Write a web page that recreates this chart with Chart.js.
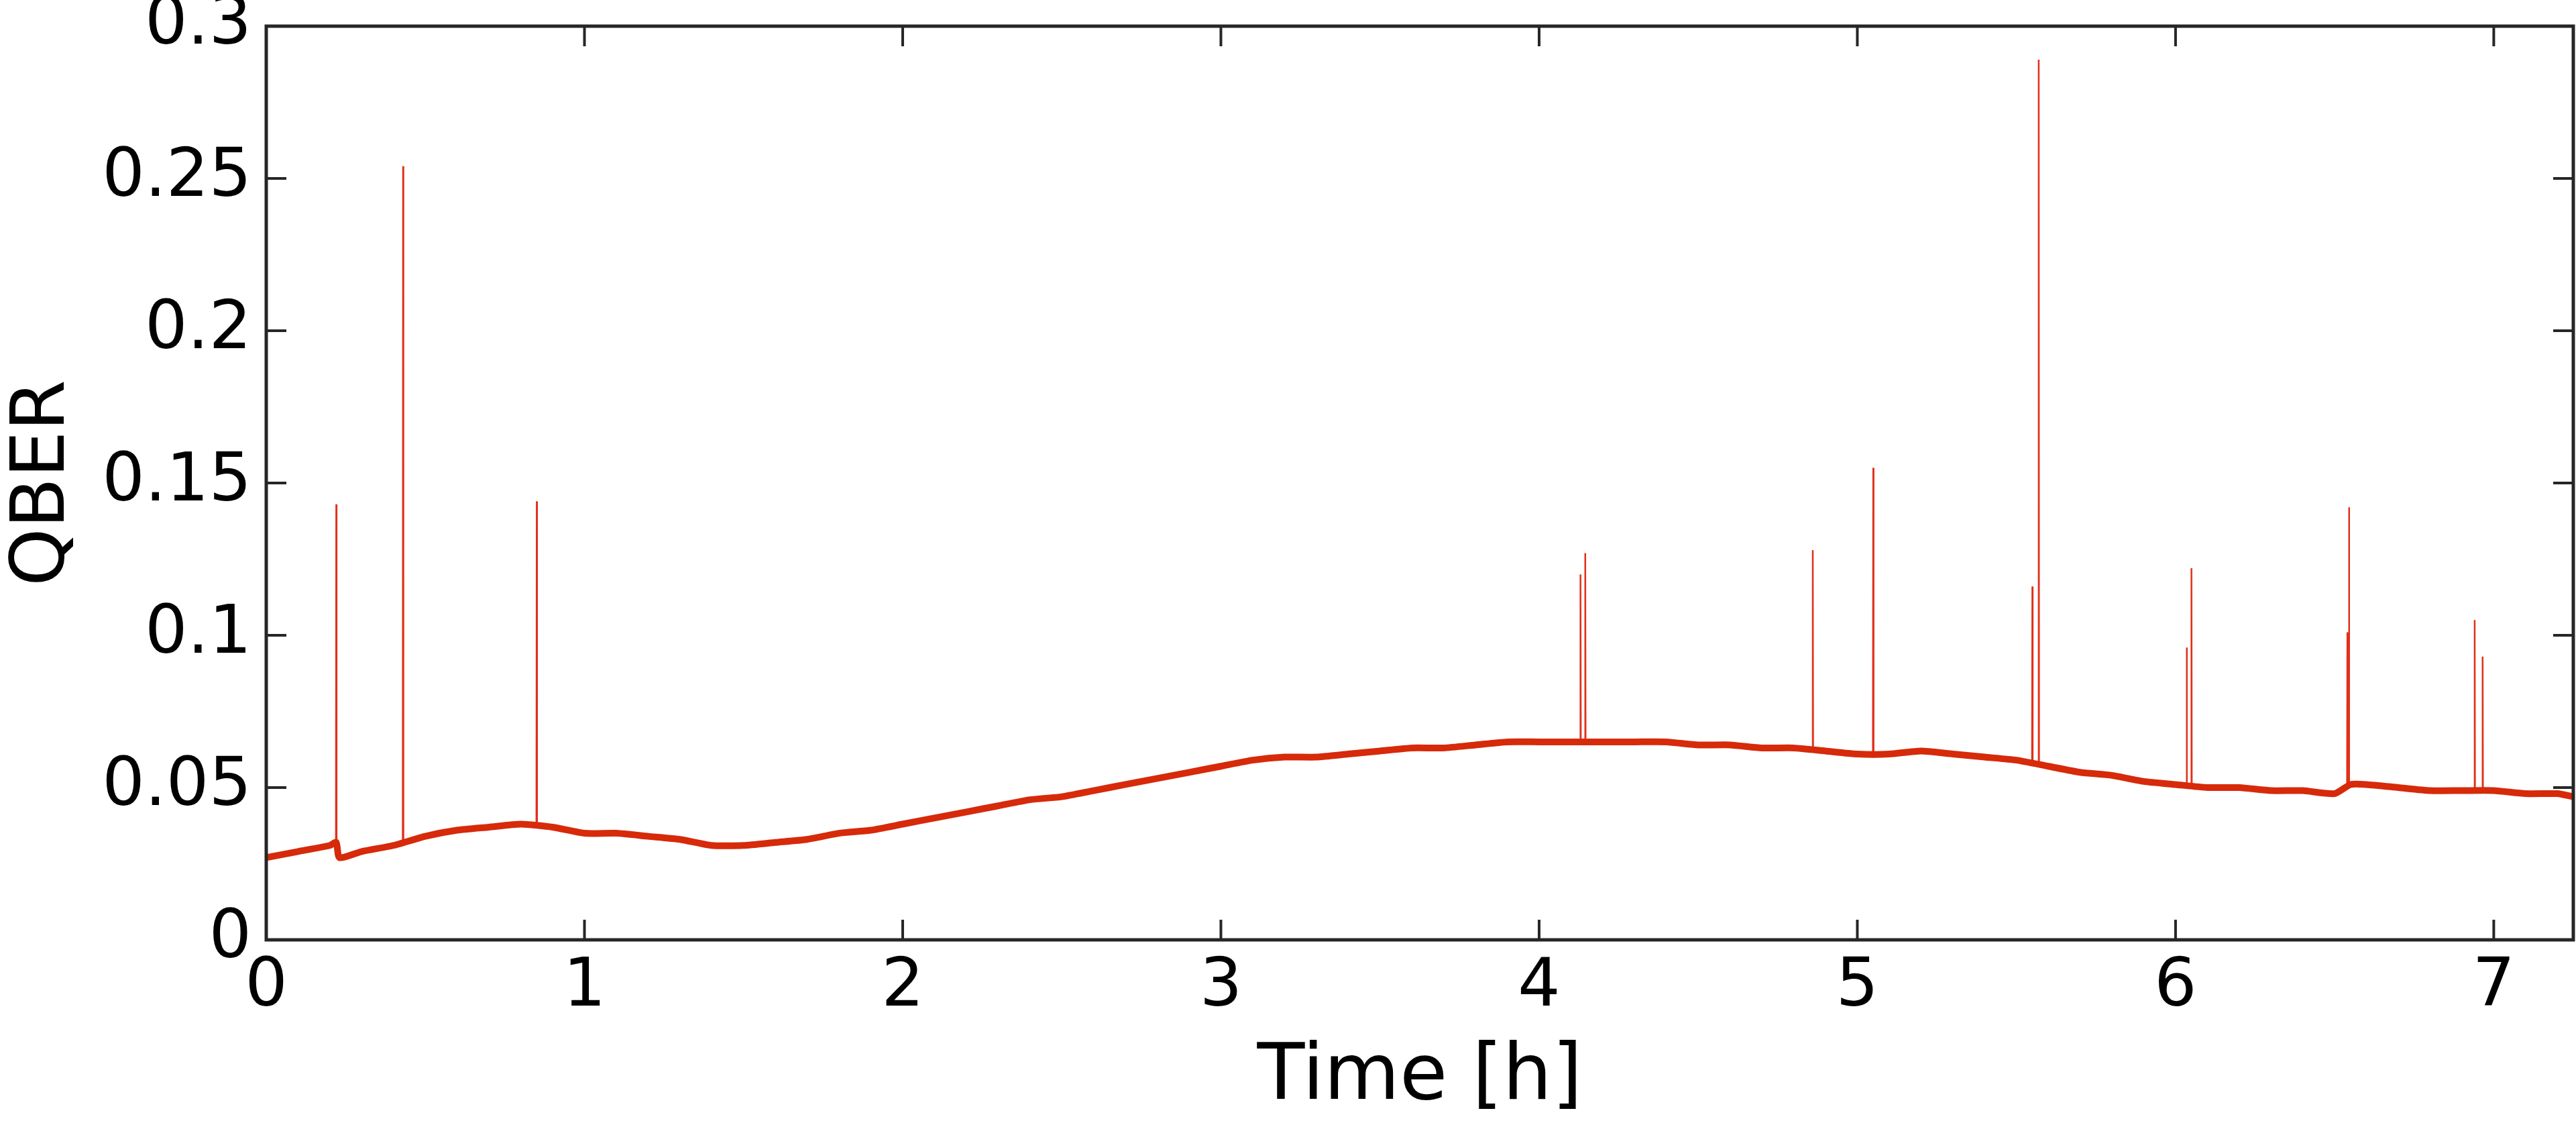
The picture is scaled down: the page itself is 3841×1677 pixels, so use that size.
<!DOCTYPE html>
<html><head><meta charset="utf-8">
<script src="https://cdn.jsdelivr.net/npm/chart.js@4"></script>
<style>html,body{margin:0;padding:0;background:#fff}#w{width:3841px;height:1677px}</style>
</head><body><div id="w"><canvas id="c"></canvas></div>
<script>
const baseT = [0,0.1,0.2,0.22,0.23,0.3,0.4,0.5,0.6,0.7,0.8,0.9,1.0,1.1,1.2,1.3,1.4,1.5,1.6,1.7,1.8,1.9,2.0,2.1,2.2,2.3,2.4,2.5,2.6,2.7,2.8,2.9,3.0,3.1,3.2,3.3,3.4,3.5,3.6,3.7,3.8,3.9,4.0,4.1,4.2,4.3,4.4,4.5,4.6,4.7,4.8,4.9,5.0,5.1,5.2,5.3,5.4,5.5,5.6,5.7,5.8,5.9,6.0,6.1,6.2,6.3,6.4,6.5,6.55,6.6,6.7,6.8,6.9,7.0,7.1,7.2,7.25];
const baseQ = [0.027,0.029,0.031,0.032,0.027,0.029,0.031,0.034,0.036,0.037,0.038,0.037,0.035,0.035,0.034,0.033,0.031,0.031,0.032,0.033,0.035,0.036,0.038,0.040,0.042,0.044,0.046,0.047,0.049,0.051,0.053,0.055,0.057,0.059,0.060,0.060,0.061,0.062,0.063,0.063,0.064,0.065,0.065,0.065,0.065,0.065,0.065,0.064,0.064,0.063,0.063,0.062,0.061,0.061,0.062,0.061,0.060,0.059,0.057,0.055,0.054,0.052,0.051,0.050,0.050,0.049,0.049,0.048,0.051,0.051,0.050,0.049,0.049,0.049,0.048,0.048,0.047];
const spikeT = [0.22,0.43,0.85,4.13,4.145,4.86,5.05,5.55,5.57,6.035,6.05,6.54,6.545,6.94,6.965];
const spikeQ = [0.143,0.254,0.144,0.120,0.127,0.128,0.155,0.116,0.289,0.096,0.122,0.101,0.142,0.105,0.093];
const xTicks = [0,1,2,3,4,5,6,7];
const yTicks = [0,0.05,0.1,0.15,0.2,0.25,0.3];
const yLabels = ['0','0.05','0.1','0.15','0.2','0.25','0.3'];

function baseAt(t){for(let i=1;i<baseT.length;i++){if(t<=baseT[i]){const f=(t-baseT[i-1])/(baseT[i]-baseT[i-1]);return baseQ[i-1]+f*(baseQ[i]-baseQ[i-1]);}}return baseQ[baseQ.length-1];}
const spikePts=[];
spikeT.forEach((t,i)=>{const b=baseAt(t);spikePts.push({x:t-0.001,y:b},{x:t,y:spikeQ[i]},{x:t+0.001,y:b},{x:NaN,y:NaN});});
const basePts=baseT.map((t,i)=>({x:t,y:baseQ[i]}));

const frame={id:'frame',afterDraw(ch){const {ctx,chartArea:a,scales:{x,y}}=ch;ctx.save();ctx.strokeStyle='#262626';ctx.lineWidth=5;ctx.strokeRect(a.left,a.top,a.right-a.left,a.bottom-a.top);
ctx.lineWidth=4;const L=30;ctx.beginPath();
xTicks.forEach(v=>{const p=x.getPixelForValue(v);ctx.moveTo(p,a.bottom);ctx.lineTo(p,a.bottom-L);ctx.moveTo(p,a.top);ctx.lineTo(p,a.top+L);});
yTicks.forEach(v=>{const p=y.getPixelForValue(v);ctx.moveTo(a.left,p);ctx.lineTo(a.left+L,p);ctx.moveTo(a.right,p);ctx.lineTo(a.right-L,p);});
ctx.stroke();ctx.restore();}};

new Chart(document.getElementById('c'),{type:'line',
data:{datasets:[
{data:basePts,borderColor:'#d62a0a',borderWidth:10,pointRadius:0,tension:0.2},
{data:spikePts,borderColor:'#e0301a',borderWidth:2.5,pointRadius:0,spanGaps:false}]},
options:{responsive:true,maintainAspectRatio:false,animation:false,
layout:{padding:{top:39,right:4,left:0,bottom:0}},
plugins:{legend:{display:false},tooltip:{enabled:false}},
scales:{
x:{type:'linear',min:0,max:7.25,afterBuildTicks(s){s.ticks=xTicks.map(v=>({value:v}));},
grid:{display:false},border:{display:false},
ticks:{font:{family:'DejaVu Sans',size:100},color:'#000',padding:4,maxRotation:0,callback:v=>String(v)},
title:{display:true,text:'Time [h]',font:{family:'DejaVu Sans',size:116},color:'#000',padding:{top:0,bottom:0}},
afterFit(s){s.height=276;s.paddingLeft=0;s.paddingRight=0;}},
y:{min:0,max:0.3,afterBuildTicks(s){s.ticks=yTicks.map(v=>({value:v}));},
grid:{display:false},border:{display:false},
ticks:{font:{family:'DejaVu Sans',size:100},color:'#000',padding:14,callback:(v)=>yLabels[yTicks.indexOf(v)] ?? ''},
title:{display:true,text:'QBER',font:{family:'DejaVu Sans',size:110},color:'#000',padding:{top:0,bottom:0}},
afterFit(s){s.width=397;s.paddingTop=0;s.paddingBottom=0;}}}},
plugins:[frame]});
</script></body></html>
